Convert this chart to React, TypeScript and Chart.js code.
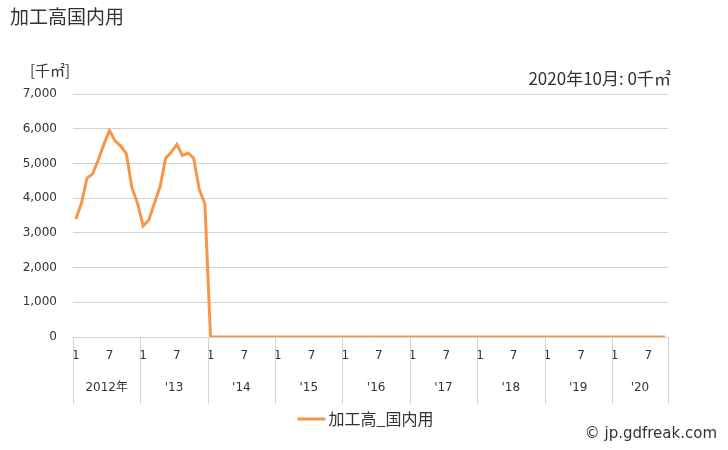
import { useRef, useEffect } from "react";
import { Chart, registerables } from "chart.js";

Chart.register(...registerables);

const FONT = '"DejaVu Sans", "Noto Sans CJK JP", sans-serif';
const JP_FONT = '"Noto Sans CJK JP", "DejaVu Sans", sans-serif';
const ORANGE = "#F79646";
const GRID = "#d3d3d3";

// 2012-01 .. 2020-10, monthly
const years = [2012, 2013, 2014, 2015, 2016, 2017, 2018, 2019, 2020];
const yearLabels = ["2012年", "'13", "'14", "'15", "'16", "'17", "'18", "'19", "'20"];
const months = [1, 2, 3, 4, 5, 6, 7, 8, 9, 10, 11, 12];
const lastMonth = 10;
const tickMonths = [1, 7];

const values2012 = [3400, 3850, 4580, 4700, 5100, 5550, 5950, 5650, 5500, 5280, 4300, 3850];
const values2013 = [3200, 3370, 3850, 4320, 5150, 5320, 5550, 5230, 5300, 5150, 4250, 3830];
const values2014 = [0, 0, 0, 0, 0, 0, 0, 0, 0, 0, 0, 0];
const values2015 = [0, 0, 0, 0, 0, 0, 0, 0, 0, 0, 0, 0];
const values2016 = [0, 0, 0, 0, 0, 0, 0, 0, 0, 0, 0, 0];
const values2017 = [0, 0, 0, 0, 0, 0, 0, 0, 0, 0, 0, 0];
const values2018 = [0, 0, 0, 0, 0, 0, 0, 0, 0, 0, 0, 0];
const values2019 = [0, 0, 0, 0, 0, 0, 0, 0, 0, 0, 0, 0];
const values2020 = [0, 0, 0, 0, 0, 0, 0, 0, 0, 0];

const seriesName = "加工高_国内用";
const title = "加工高国内用";
const unitLabel = "[千㎡]";
const latestLabel = "2020年10月: 0千㎡";
const credit = "© jp.gdfreak.com";

const yMax = 7000;
const yStep = 1000;

const categories: string[] = [];
const monthOf: number[] = [];
years.forEach((y, i) => {
  const count = i === years.length - 1 ? lastMonth : months.length;
  months.slice(0, count).forEach((m) => {
    categories.push(`${y}-${m}`);
    monthOf.push(m);
  });
});

const values = [
  ...values2012,
  ...values2013,
  ...values2014,
  ...values2015,
  ...values2016,
  ...values2017,
  ...values2018,
  ...values2019,
  ...values2020,
];

const decorations = {
  id: "decorations",
  afterDraw(chart: any) {
    const { ctx, chartArea } = chart;
    const xs = chart.scales.x;
    const half = (xs.getPixelForValue(1) - xs.getPixelForValue(0)) / 2;
    const bottom = chartArea.bottom;

    ctx.save();
    // year separators below the axis
    ctx.strokeStyle = GRID;
    ctx.lineWidth = 1;
    const seps: number[] = [];
    years.forEach((_, k) => seps.push(xs.getPixelForValue(k * 12) - half));
    seps.push(xs.getPixelForValue(categories.length - 1) + half);
    seps.forEach((x) => {
      const px = Math.round(x) + 0.5;
      ctx.beginPath();
      ctx.moveTo(px, bottom);
      ctx.lineTo(px, bottom + 67);
      ctx.stroke();
    });

    // year labels
    ctx.fillStyle = "#333";
    ctx.font = `12px ${FONT}`;
    ctx.textAlign = "center";
    ctx.textBaseline = "middle";
    yearLabels.forEach((label, k) => {
      const first = k * 12;
      const last = Math.min(first + 11, categories.length - 1);
      const cx = (xs.getPixelForValue(first) + xs.getPixelForValue(last)) / 2;
      ctx.fillText(label, cx, bottom + 51);
    });

    // title
    ctx.textAlign = "left";
    ctx.fillStyle = "#333";
    ctx.font = `19px ${JP_FONT}`;
    ctx.fillText(title, 10, 17);

    // unit
    ctx.font = `15px ${JP_FONT}`;
    ctx.fillText(unitLabel, 30, 70);

    // latest value
    ctx.textAlign = "right";
    ctx.font = `17px ${JP_FONT}`;
    ctx.fillText(latestLabel, chartArea.right + 3, 79);

    // legend
    const ds = chart.data.datasets[0];
    ctx.font = `16px ${JP_FONT}`;
    const tw = ctx.measureText(ds.label).width;
    const lw = 28;
    const gap = 3;
    const total = lw + gap + tw;
    const lx = (chartArea.left + chartArea.right) / 2 - total / 2 - 5;
    const ly = 419;
    ctx.strokeStyle = ds.borderColor;
    ctx.lineWidth = 3;
    ctx.beginPath();
    ctx.moveTo(lx, ly);
    ctx.lineTo(lx + lw, ly);
    ctx.stroke();
    ctx.textAlign = "left";
    ctx.fillStyle = "#333";
    ctx.fillText(ds.label, lx + lw + gap, ly);

    // credit
    ctx.textAlign = "right";
    ctx.font = `15px ${FONT}`;
    ctx.fillText(credit, 717, 434);
    ctx.restore();
  },
};

export default function App() {
  const chartRef = useRef<HTMLCanvasElement | null>(null);

  useEffect(() => {
    const ctx = chartRef.current?.getContext("2d");
    if (!ctx) return;

    const myChart = new Chart(ctx, {
      type: "line",
      data: {
        labels: categories,
        datasets: [
          {
            label: seriesName,
            data: values,
            borderColor: ORANGE,
            backgroundColor: ORANGE,
            borderWidth: 3,
            pointRadius: 0,
            tension: 0,
          },
        ],
      },
      options: {
        responsive: false,
        animation: false,
        layout: {
          padding: { top: 94, right: 60, left: 0, bottom: 0 },
        },
        plugins: {
          legend: { display: false },
          tooltip: { enabled: false },
        },
        scales: {
          x: {
            type: "category",
            offset: true,
            grid: { display: false, drawTicks: false },
            border: { display: false },
            afterFit: (scale: any) => {
              scale.height = 113;
            },
            ticks: {
              autoSkip: false,
              maxRotation: 0,
              minRotation: 0,
              padding: 12,
              color: "#333",
              font: { family: FONT, size: 12 },
              callback: (_v: any, i: number) =>
                tickMonths.includes(monthOf[i]) ? String(monthOf[i]) : "",
            },
          },
          y: {
            min: 0,
            max: yMax,
            grid: { color: GRID, drawTicks: false },
            border: { display: false },
            afterFit: (scale: any) => {
              scale.width = 73;
            },
            ticks: {
              stepSize: yStep,
              padding: 16,
              color: "#333",
              font: { family: FONT, size: 12 },
              callback: (v: any) => Number(v).toLocaleString("en-US"),
            },
          },
        },
      },
      plugins: [decorations],
    });

    return () => {
      myChart.destroy();
    };
  }, []);

  return (
    <div style={{ position: "absolute", left: 0, top: 0, width: 728, height: 450, background: "#fff" }}>
      <canvas ref={chartRef} width={728} height={450}></canvas>
    </div>
  );
}
